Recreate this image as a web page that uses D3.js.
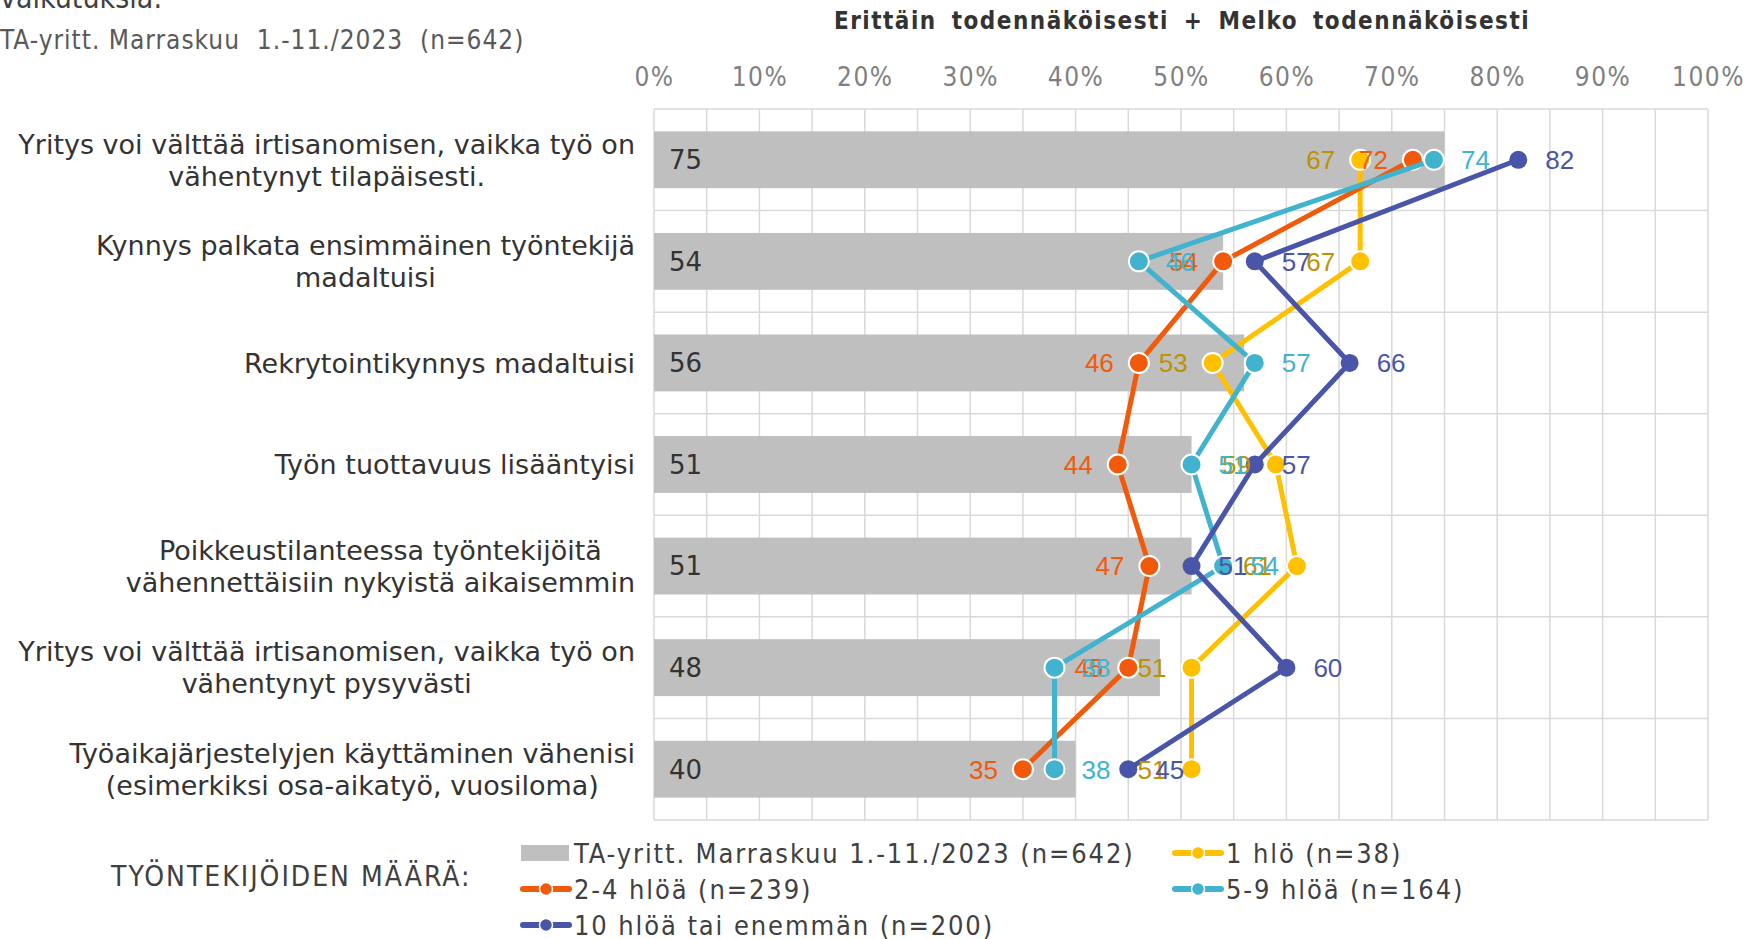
<!DOCTYPE html>
<html>
<head>
<meta charset="utf-8">
<script src="https://cdn.jsdelivr.net/npm/d3@7"></script>
<style>
  body { margin: 0; background: #fff; }
  svg { display: block; }
</style>
</head>
<body>
<div id="chart"></div>
<script>
// categories (row labels, "\n" = line break)
const categories = [
  "Yritys voi välttää irtisanomisen, vaikka työ on\nvähentynyt tilapäisesti.",
  "Kynnys palkata ensimmäinen työntekijä\nmadaltuisi",
  "Rekrytointikynnys madaltuisi",
  "Työn tuottavuus lisääntyisi",
  "Poikkeustilanteessa työntekijöitä\nvähennettäisiin nykyistä aikaisemmin",
  "Yritys voi välttää irtisanomisen, vaikka työ on\nvähentynyt pysyvästi",
  "Työaikajärjestelyjen käyttäminen vähenisi\n(esimerkiksi osa-aikatyö, vuosiloma)"
];

const totalValues = [75, 54, 56, 51, 51, 48, 40];
const oneValues   = [67, 67, 53, 59, 61, 51, 51];
const twoValues   = [72, 54, 46, 44, 47, 45, 35];
const fiveValues  = [74, 46, 57, 51, 54, 38, 38];
const tenValues   = [82, 57, 66, 57, 51, 60, 45];

const xTicks = [0, 10, 20, 30, 40, 50, 60, 70, 80, 90, 100];

const totalName = "TA-yritt. Marraskuu 1.-11./2023 (n=642)";
const seriesNames = ["1 hlö (n=38)", "2-4 hlöä (n=239)", "5-9 hlöä (n=164)", "10 hlöä tai enemmän (n=200)"];

var w = 1749, h = 939;
var plotL = 654, plotR = 1708, plotT = 109, plotB = 820;
var condensed = "DejaVu Sans Condensed, DejaVu Sans";

var series = [
  {name: seriesNames[0], values: oneValues,  color: "#FFC000", text: "#BF9000", side: "left",  ring: true},
  {name: seriesNames[1], values: twoValues,  color: "#F05A0A", text: "#F05A0A", side: "left",  ring: true},
  {name: seriesNames[2], values: fiveValues, color: "#41B3CE", text: "#41B3CE", side: "right", ring: true},
  {name: seriesNames[3], values: tenValues,  color: "#4855A8", text: "#4855A8", side: "right", ring: false}
];

let svg = d3.select("#chart").append("svg")
            .attr("width", w)
            .attr("height", h);

let xScale = d3.scaleLinear().domain([0, 100]).range([plotL, plotR]);
let yScale = d3.scaleBand().domain(d3.range(categories.length))
               .range([plotT, plotB])
               .paddingInner(0.44)
               .paddingOuter(0.22);
let step = yScale.step();
let cy = (i) => yScale(i) + yScale.bandwidth()/2;

// titles
svg.append("text")
   .attr("x", 0).attr("y", 8)
   .style("font-family", condensed)
   .style("font-size", "30px")
   .style("fill", "#404040")
   .text("vaikutuksia:");

svg.append("text")
   .attr("x", 0).attr("y", 49)
   .style("font-family", condensed)
   .style("font-size", "26px")
   .style("letter-spacing", "1px")
   .style("fill", "#595959")
   .style("white-space", "pre")
   .text("TA-yritt. Marraskuu  1.-11./2023  (n=642)");

svg.append("text")
   .attr("x", 1182).attr("y", 29)
   .attr("text-anchor", "middle")
   .style("font-family", condensed)
   .style("font-size", "24px")
   .style("font-weight", "bold")
   .style("letter-spacing", "1.5px")
   .style("word-spacing", "6px")
   .style("fill", "#333")
   .text("Erittäin todennäköisesti + Melko todennäköisesti");

// grid
let grid = svg.append("g");
grid.selectAll("line.v")
    .data(d3.range(0, 101, 5))
    .enter().append("line")
    .attr("x1", d => xScale(d)).attr("x2", d => xScale(d))
    .attr("y1", plotT).attr("y2", plotB)
    .style("stroke", "#d9d9d9").style("stroke-width", 1.5);
grid.selectAll("line.h")
    .data(d3.range(categories.length + 1))
    .enter().append("line")
    .attr("x1", plotL).attr("x2", plotR)
    .attr("y1", d => plotT + d*step).attr("y2", d => plotT + d*step)
    .style("stroke", "#d9d9d9").style("stroke-width", 1.5);

// x axis on top
let xAxis = d3.axisTop(xScale)
              .tickValues(xTicks)
              .tickSize(0)
              .tickPadding(0)
              .tickFormat(d => d + "%");
let axisG = svg.append("g")
   .attr("transform", "translate(0,86)")
   .call(xAxis);
axisG.select(".domain").remove();
axisG.selectAll("text")
     .style("font-family", condensed)
     .style("font-size", "26px")
     .style("letter-spacing", "1.5px")
     .style("fill", "#808080");

// bars
svg.append("g").selectAll("rect")
   .data(totalValues)
   .enter().append("rect")
   .attr("x", xScale(0))
   .attr("y", (d, i) => yScale(i))
   .attr("width", d => xScale(d) - xScale(0))
   .attr("height", yScale.bandwidth())
   .style("fill", "#BFBFBF");

svg.append("g").selectAll("text")
   .data(totalValues)
   .enter().append("text")
   .attr("x", xScale(0) + 15)
   .attr("y", (d, i) => cy(i))
   .attr("dy", "0.36em")
   .style("font-family", "DejaVu Sans")
   .style("font-size", "26px")
   .style("fill", "#333")
   .text(d => d);

// row labels
let rowG = svg.append("g");
categories.forEach(function(c, i){
  let lines = c.split("\n");
  let g = rowG.append("g");
  let texts = g.selectAll("text")
     .data(lines)
     .enter().append("text")
     .attr("y", (d, k) => cy(i) + (k - (lines.length - 1)/2) * 32)
     .attr("dy", "0.36em")
     .attr("text-anchor", "middle")
     .style("font-family", "DejaVu Sans")
     .style("font-size", "27px")
     .style("fill", "#333")
     .text(d => d);
  let maxW = d3.max(texts.nodes(), n => n.getComputedTextLength());
  texts.attr("x", 635 - maxW/2);
});

// lines + markers
let line = d3.line()
             .x(d => xScale(d))
             .y((d, i) => cy(i));

series.forEach(function(s){
  svg.append("path")
     .datum(s.values)
     .attr("d", line)
     .style("fill", "none")
     .style("stroke", s.color)
     .style("stroke-width", 5)
     .style("stroke-linejoin", "round");
  svg.append("g").selectAll("circle")
     .data(s.values)
     .enter().append("circle")
     .attr("cx", d => xScale(d))
     .attr("cy", (d, i) => cy(i))
     .attr("r", s.ring ? 10 : 9)
     .style("fill", s.color)
     .style("stroke", s.ring ? "#fff" : "none")
     .style("stroke-width", 2);
});

series.forEach(function(s){
  svg.append("g").selectAll("text")
     .data(s.values)
     .enter().append("text")
     .attr("x", d => s.side == "left" ? xScale(d) - 25 : xScale(d) + 27)
     .attr("y", (d, i) => cy(i))
     .attr("dy", "0.36em")
     .attr("text-anchor", s.side == "left" ? "end" : "start")
     .style("font-family", "Liberation Sans, Arial")
     .style("font-size", "26px")
     .style("fill", s.text)
     .text(d => d);
});

// legend
svg.append("text")
   .attr("x", 111).attr("y", 876)
   .attr("dy", "0.36em")
   .style("font-family", condensed)
   .style("font-size", "28px")
   .style("letter-spacing", "2px")
   .style("fill", "#404040")
   .text("TYÖNTEKIJÖIDEN MÄÄRÄ:");

let legendItems = [
  {name: totalName, color: "#BFBFBF", bar: true, x: 521, y: 853},
  {name: series[0].name, color: series[0].color, x: 1173, y: 853},
  {name: series[1].name, color: series[1].color, x: 521, y: 889},
  {name: series[2].name, color: series[2].color, x: 1173, y: 889},
  {name: series[3].name, color: series[3].color, x: 521, y: 925}
];

let legend = svg.append("g");
legendItems.forEach(function(it){
  let g = legend.append("g").attr("transform", "translate(" + it.x + "," + it.y + ")");
  if (it.bar) {
    g.append("rect").attr("x", 0).attr("y", -8).attr("width", 48).attr("height", 16)
     .style("fill", it.color);
  } else {
    g.append("line").attr("x1", 2).attr("x2", 48).attr("y1", 0).attr("y2", 0)
     .style("stroke", it.color).style("stroke-width", 6).style("stroke-linecap", "round");
    g.append("circle").attr("cx", 25).attr("cy", 0).attr("r", 6.5)
     .style("fill", it.color).style("stroke", "#fff").style("stroke-width", 1.5);
  }
  g.append("text")
   .attr("x", 53).attr("y", 0).attr("dy", "0.36em")
   .style("font-family", condensed)
   .style("font-size", "27px")
   .style("letter-spacing", "1.9px")
   .style("fill", "#404040")
   .text(it.name);
});
</script>
</body>
</html>
